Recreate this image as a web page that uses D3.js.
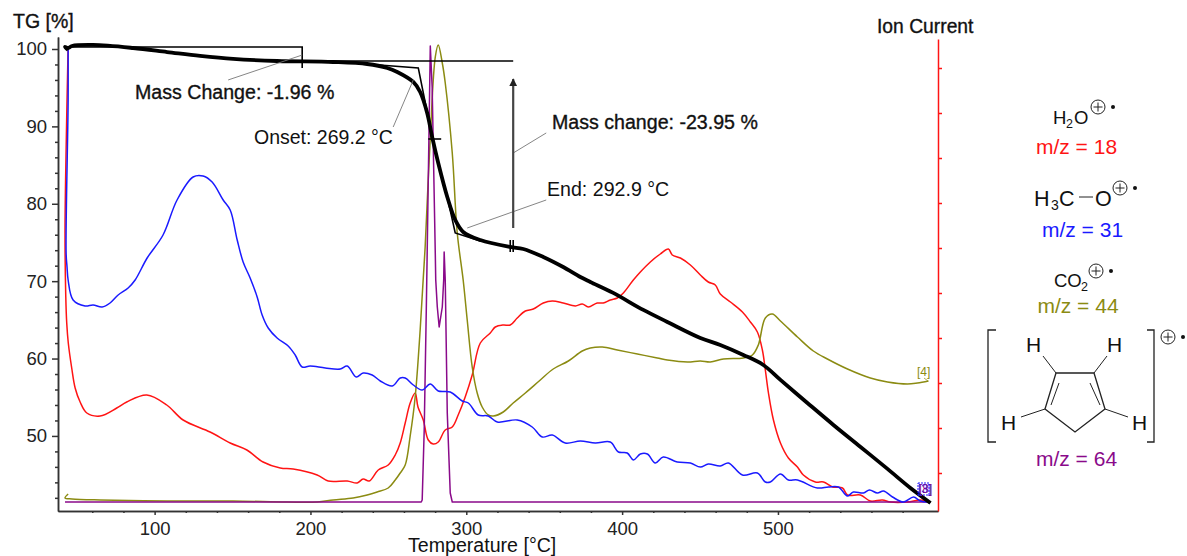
<!DOCTYPE html>
<html lang="en">
<head>
<meta charset="UTF-8">
<title>TG-MS</title>
<style>
    body { margin: 0; background: #fff; }
    text { font-family: "Liberation Sans", Arial, sans-serif; fill: #111; }
    .anno { stroke: #000; stroke-width: 1.6; fill: none; }
    .leader { stroke: #777; stroke-width: 0.9; fill: none; }
    .curve { fill: none; stroke-linejoin: round; }
</style>
</head>
<body>
<div id="sv"></div>
<script src="https://d3js.org/d3.v7.min.js"></script>
<script>
    // temperature [C]
    var tempTicks = [100, 200, 300, 400, 500];
    var tempMinor = [60, 80, 120, 140, 160, 180, 220, 240, 260, 280, 320, 340, 360, 380, 420, 440, 460, 480, 520, 540, 560, 580];
    // TG [%]
    var tgTicks = [50, 60, 70, 80, 90, 100];
    var tgMinor = [42, 44, 46, 48, 52, 54, 56, 58, 62, 64, 66, 68, 72, 74, 76, 78, 82, 84, 86, 88, 92, 94, 96, 98];
    // ion current, arbitrary units
    var ionTicks = [38, 83, 128, 173, 218, 263, 308, 353, 398, 443];

    var tgT = [44.5, 42.5, 44.5, 47, 60.5, 86.2, 108, 129.2, 150.4, 178.6, 214.6, 236.4, 249.3, 255.7, 266, 270.4, 274.9, 278.1, 282, 287.8, 292.9, 298, 309, 328.2, 336.6, 349.4, 362.2, 373.2, 379.6, 394.3, 413.6, 429, 450.2, 463, 477.8, 490.6, 501.6, 518.9, 535.6, 553, 570.3, 585, 597.9];
    var tgV = [99.9, 100.26, 100.13, 100.39, 100.52, 100.13, 99.61, 99.1, 98.71, 98.45, 98.32, 98.06, 97.55, 97.03, 95.74, 94.44, 91.73, 88.63, 85.27, 80.88, 77.91, 76.36, 75.32, 74.42, 74.16, 73.13, 71.83, 70.54, 69.9, 68.48, 66.28, 64.73, 62.66, 61.76, 60.47, 59.17, 57.24, 54.26, 51.42, 48.58, 45.74, 43.28, 41.34];

    var m18T = [44.5, 43.2, 42.5, 43, 43.6, 44.6, 46.8, 49, 52.2, 56.5, 65, 75.7, 82.1, 95, 107.8, 118.3, 135.6, 148.5, 159.2, 169.6, 180.6, 188.9, 204.3, 211.4, 223.6, 230, 233.8, 237.7, 243.5, 249.9, 254.4, 257.6, 260.8, 264, 267.2, 269, 272.4, 275.6, 278.8, 282, 286.5, 291, 294.8, 299.3, 303.8, 309, 315.4, 318.6, 323.7, 328.2, 332.7, 337.9, 343, 349.4, 355.2, 362.2, 370, 374.4, 378.3, 384, 387.9, 392.4, 396.9, 400.8, 407.2, 411.7, 418.1, 424.5, 429.7, 432.2, 437.4, 443.8, 450.2, 455.3, 459.8, 463, 469.5, 477.2, 482.3, 486.8, 490, 491.9, 493.9, 497.1, 501.6, 506.7, 512.5, 516.3, 524, 529.2, 535, 541.4, 544.6, 552.9, 559.3, 567, 572.2, 583.1, 591.4, 596.6];
    var m18I = [465, 361, 278, 214, 188, 168, 143, 123, 109, 98, 95, 103, 109, 116, 106, 91, 79, 68, 61, 49, 43, 42, 36, 30, 30, 28, 32, 30, 41, 46, 56, 68, 88, 108, 118, 104, 91, 71, 67, 69, 81, 84, 96, 114, 136, 168, 178, 184, 186, 186, 193, 200, 202, 208, 210, 208, 205, 207, 204, 208, 208, 211, 213, 218, 231, 239, 249, 257, 262, 256, 253, 246, 236, 229, 226, 217, 209, 199, 189, 179, 161, 141, 118, 91, 68, 53, 44, 36, 29, 29, 24, 23, 16, 16, 10, 11, 9, 9, 11, 9];

    var m31T = [44.5, 44.5, 43.2, 43.8, 44.5, 47.7, 55.4, 60.5, 66.3, 71.4, 76.6, 83, 87.5, 95.2, 105.4, 114.4, 124.7, 131.1, 136.9, 144, 148.5, 153, 156.8, 161.3, 165.8, 169, 172.9, 178.6, 185.7, 190.2, 194.7, 199.8, 209.5, 219.1, 223.6, 229.4, 233.8, 239.6, 244.8, 252.5, 257.6, 260.8, 266, 271.7, 276.9, 282, 289.7, 297.4, 301.3, 307.7, 314.1, 319.9, 332.7, 342.3, 348.8, 355.2, 363.5, 373.2, 382.8, 392.4, 397.6, 403.3, 407.2, 411.7, 416.2, 421.3, 426.4, 435.4, 443.8, 450.2, 455.3, 463, 468.2, 477.2, 486.8, 491.9, 495.1, 501.6, 506.7, 512.5, 525.3, 532.4, 538.8, 544.6, 548.4, 554.9, 558.7, 563.8, 567.7, 573.5, 580.5, 587, 591.4, 596.6];
    var m31I = [465, 411, 258, 244, 231, 211, 205, 206, 204, 208, 216, 223, 231, 253, 276, 311, 334, 335, 329, 311, 301, 271, 249, 233, 214, 196, 183, 173, 165, 156, 144, 145, 143, 142, 145, 134, 138, 136, 130, 125, 133, 133, 126, 121, 127, 120, 119, 110, 108, 96, 95, 89, 91, 84, 74, 76, 68, 70, 68, 69, 59, 58, 51, 57, 57, 48, 54, 49, 48, 44, 47, 45, 48, 36, 38, 29, 29, 37, 31, 31, 23, 24, 24, 15, 19, 18, 21, 18, 20, 14, 9, 14, 10, 9];

    var m44T = [44.5, 42.5, 47, 65, 108, 150.4, 185, 204.3, 214.6, 227.4, 236.4, 242.8, 249.9, 254.4, 257.6, 260.8, 264, 267.2, 270.4, 272.4, 273.6, 276.9, 280.1, 282, 284.6, 286.5, 291, 294.2, 298, 300.6, 303.8, 307, 310.2, 314.1, 317.3, 323.7, 330.1, 337.9, 347.5, 355.8, 365.5, 374.4, 379.6, 387.3, 396.9, 409.8, 422.6, 429, 441.9, 450.2, 456.6, 465, 477.8, 483.6, 487.4, 491.9, 496.4, 501.6, 512.5, 522.7, 531.7, 544.6, 559.3, 570.3, 583.1, 589.5, 596.6];
    var m44I = [17, 13, 12, 11, 10, 10, 9, 9, 11, 13, 16, 19, 23, 31, 38, 46, 75, 114, 181, 233, 264, 374, 454, 466, 448, 428, 358, 278, 231, 191, 144, 118, 104, 96, 95, 99, 108, 118, 131, 142, 150, 160, 163, 164, 161, 157, 153, 151, 149, 150, 149, 152, 153, 156, 166, 193, 197, 190, 174, 160, 152, 142, 133, 129, 127, 128, 130];

    var m64T = [42.5, 271.1, 271.7, 273, 274.3, 274.9, 276.9, 278.1, 280.1, 280.4, 281.4, 282.6, 284.6, 285.5, 285.8, 286.5, 287.8, 289.7, 291, 597.9];
    var m64I = [9, 9, 11, 81, 198, 258, 465, 424, 258, 231, 204, 184, 204, 231, 259, 231, 98, 18, 9, 9];

    var width = 1187, height = 556;
    var svg = d3.select("#sv").append("svg").attr("width", width).attr("height", height).style("display", "block");

    // scales
    var x = d3.scaleLinear().domain([38, 602.7]).range([58, 938]);
    var y = d3.scaleLinear().domain([40.3, 101.55]).range([511, 37]);
    var yIon = d3.scaleLinear().domain([0, 472]).range([511, 39]);

    function lineOf(xs, vs, sy, curve) {
        return d3.line().x(d => x(d)).y((d, i) => sy(vs[i])).curve(curve)(xs);
    }

    // ion traces first, TG on top
    var traces = [
        [m18T, m18I, "#ff1414", d3.curveCatmullRom],
        [m44T, m44I, "#8b8b12", d3.curveCatmullRom],
        [m64T, m64I, "#8a0a8a", d3.curveLinear],
        [m31T, m31I, "#1a1aff", d3.curveCatmullRom]
    ];
    traces.forEach(t => {
        svg.append("path").attr("class", "curve")
            .attr("d", lineOf(t[0], t[1], yIon, t[3]))
            .attr("stroke", t[2]).attr("stroke-width", 1.5);
    });

    svg.append("path").attr("class", "curve")
        .attr("d", lineOf(tgT, tgV, y, d3.curveCatmullRom))
        .attr("stroke", "#000").attr("stroke-width", 3.8);

    // axes
    var xAxis = svg.append("g").attr("transform", "translate(0,511)");
    xAxis.call(d3.axisBottom(x).tickValues(tempTicks).tickSize(4).tickSizeOuter(0).tickPadding(7));
    xAxis.append("g").call(d3.axisBottom(x).tickValues(tempMinor).tickSize(2).tickSizeOuter(0).tickFormat(""));
    var yAxis = svg.append("g").attr("transform", "translate(58,0)");
    yAxis.call(d3.axisLeft(y).tickValues(tgTicks).tickSize(6).tickSizeOuter(0).tickPadding(5));
    yAxis.append("g").call(d3.axisLeft(y).tickValues(tgMinor).tickSize(3).tickSizeOuter(0).tickFormat(""));
    var ionAxis = svg.append("g").attr("transform", "translate(938,0)");
    ionAxis.call(d3.axisRight(yIon).tickValues(ionTicks).tickSize(4).tickSizeOuter(0).tickFormat(""));
    ionAxis.selectAll("path,line").attr("stroke", "#ff1414").attr("stroke-width", 1.5);
    svg.selectAll("g.tick text").style("font-family", '"Liberation Sans", sans-serif').style("font-size", "18.5px").style("fill", "#222");
    xAxis.selectAll("path,line").attr("stroke", "#333").attr("stroke-width", 1.5);
    yAxis.selectAll("path,line").attr("stroke", "#333").attr("stroke-width", 1.5);

    // construction lines of the evaluation, [T, TG]
    var stepLine1 = [[47, 100.26], [194.7, 100.26], [194.7, 97.55]];
    var stepLine2 = [[194.7, 98.45], [330.1, 98.45]];
    var onsetLine = [[219.1, 98.32], [269.2, 97.55], [278.1, 88.63]];
    var endLine = [[287.8, 80.88], [292.9, 76.23], [309, 75.19]];
    var midTick = [[275.6, 88.37], [283.9, 88.37]];
    var massTickA = [[328.2, 75.32], [328.2, 73.77]];
    var massTickB = [[330.1, 75.32], [330.1, 73.77]];
    var leaders = [
        [[147.2, 96], [194.7, 99.22]],
        [[253.1, 89.92], [266, 96]],
        [[300.6, 76.87], [351.3, 80.49]],
        [[330.1, 86.56], [351.3, 89.15]]
    ];
    var arrowFrom = [330.1, 76.87], arrowTo = [330.1, 96.12];

    var pathOf = d3.line().x(d => x(d[0])).y(d => y(d[1]));
    [stepLine1, stepLine2, onsetLine, endLine, midTick, massTickA, massTickB].forEach(p => {
        svg.append("path").attr("class", "anno").attr("d", pathOf(p));
    });
    leaders.forEach(p => {
        svg.append("path").attr("class", "leader").attr("d", pathOf(p));
    });

    svg.append("defs").append("marker").attr("id", "head")
        .attr("viewBox", "0 0 10 10").attr("refX", 9).attr("refY", 5)
        .attr("markerWidth", 8).attr("markerHeight", 10).attr("markerUnits", "userSpaceOnUse")
        .attr("orient", "auto")
        .append("path").attr("d", "M0,0L10,5L0,10Z").attr("fill", "#222");
    svg.append("path").attr("d", pathOf([arrowFrom, arrowTo]))
        .attr("stroke", "#444").attr("stroke-width", 2.2).attr("marker-end", "url(#head)");

    // text
    function label(px, py, s, size, color, anchor) {
        return svg.append("text").attr("x", px).attr("y", py).text(s)
            .style("font-size", size + "px").style("fill", color || "#111")
            .attr("text-anchor", anchor || "start");
    }
    function boldish(t) {
        return t.style("stroke", "#111").style("stroke-width", 0.35);
    }
    label(13, 28, "TG [%]", 19.5).call(boldish);
    label(877, 33, "Ion Current", 19.3).call(boldish);
    label(408, 552, "Temperature [°C]", 19.6);
    label(135, 99, "Mass Change: -1.96 %", 19.6).call(boldish);
    label(254, 144, "Onset: 269.2 °C", 19.5);
    label(552, 129, "Mass change: -23.95 %", 19.6).call(boldish);
    label(547, 196, "End: 292.9 °C", 19.6);
    label(917, 376, "[4]", 12, "#8b8b12");
    svg.append("line").attr("x1", 924).attr("x2", 928).attr("y1", 378).attr("y2", 381).attr("stroke", "#8b8b12").attr("stroke-width", 0.7);
    // the end labels of the other traces lie on top of each other
    label(918, 493, "[3]", 12, "#1a1aff");
    label(919, 493, "[8]", 12, "#8a0a8a");
    svg.append("rect").attr("x", 918).attr("y", 483).attr("width", 11).attr("height", 12)
        .attr("fill", "none").attr("stroke", "#1a1aff").attr("stroke-width", 1).attr("stroke-dasharray", "2,1");

    // little ion formulas on the right
    function plus(cx, cy, dot) {
        var g = svg.append("g").attr("transform", `translate(${cx},${cy})`);
        g.append("circle").attr("r", 7).attr("fill", "none").attr("stroke", "#222").attr("stroke-width", 1);
        g.append("path").attr("d", "M-4.5,0H4.5M0,-4.5V4.5").attr("stroke", "#222").attr("stroke-width", 1);
        g.append("circle").attr("cx", dot).attr("cy", 0).attr("r", 2).attr("fill", "#111");
    }
    label(1053, 124, "H", 18.5);
    label(1066, 128, "2", 12.5);
    label(1074, 124, "O", 18.5);
    plus(1098, 107, 15);
    label(1076.5, 154, "m/z = 18", 21, "#ff1414", "middle");

    label(1034, 206, "H", 21.5);
    label(1051, 210, "3", 14);
    label(1059, 206, "C", 21.5);
    svg.append("line").attr("x1", 1079).attr("x2", 1093).attr("y1", 197).attr("y2", 197).attr("stroke", "#222");
    label(1095, 206, "O", 21.5);
    plus(1120, 188, 15);
    label(1082.5, 237, "m/z = 31", 21, "#1a1aff", "middle");

    label(1054, 287, "CO", 18.5);
    label(1081, 291, "2", 12.5);
    plus(1096, 271, 15);
    label(1078, 313, "m/z = 44", 21, "#8b8b12", "middle");

    // cyclopentadiene ring
    var ring = svg.append("g").attr("fill", "none").attr("stroke", "#222").attr("stroke-width", 1);
    ring.append("path").attr("d", "M996,330H988V442H996M1147,330H1154V442H1147").attr("stroke-width", 1.3);
    ring.append("path").attr("d", "M1056,373H1094L1105,409L1075,432L1045,409Z").attr("stroke-width", 1.3);
    ring.append("path").attr("d", "M1059,383L1051,405M1090,383L1100,405");
    ring.append("path").attr("d", "M1056,373L1043,356M1094,373L1107,356M1045,409L1021,417M1105,409L1128,417");
    label(1026, 352, "H", 21);
    label(1107, 352, "H", 21);
    label(1001, 430, "H", 21);
    label(1132, 430, "H", 21);
    plus(1168, 337, 15);
    label(1076.5, 466, "m/z = 64", 21, "#8a0a8a", "middle");
</script>
</body>
</html>
